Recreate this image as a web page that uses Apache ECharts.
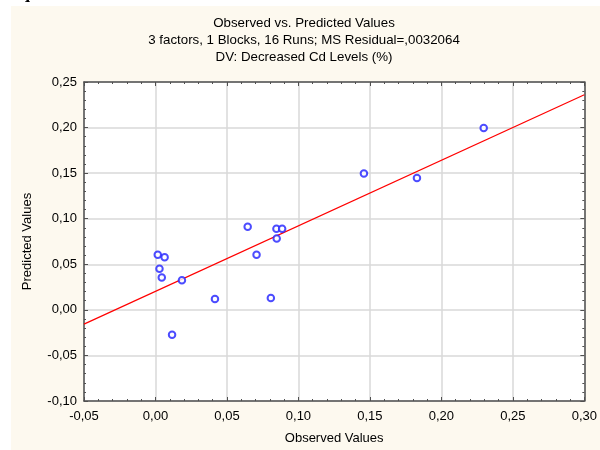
<!DOCTYPE html>
<html>
<head>
<meta charset="UTF-8">
<title>Observed vs. Predicted Values</title>
<script src="https://cdn.jsdelivr.net/npm/echarts@6/dist/echarts.min.js"></script>
<style>
  html, body { margin: 0; padding: 0; background: #fff; }
  #main { width: 600px; height: 450px; }
</style>
</head>
<body>
<div id="main"></div>
<script>
// observed (x) and predicted (y)
const observed  = [0.0016, 0.0064, 0.0028, 0.0044, 0.0185, 0.0416, 0.0116, 0.0645,
                   0.0707, 0.0846, 0.0886, 0.0848, 0.0807, 0.2296, 0.1829, 0.1458];
const predicted = [0.0604, 0.0576, 0.0452, 0.0354, 0.0326, 0.0120, -0.0272, 0.0913,
                   0.0604, 0.0891, 0.0891, 0.0783, 0.0130, 0.1996, 0.1446, 0.1496];
// fitted line end points
const fitX = [-0.05, 0.30];
const fitY = [-0.0157, 0.236];

const titleLines = [
  'Observed vs. Predicted Values',
  '3 factors, 1 Blocks, 16 Runs; MS Residual=,0032064',
  'DV: Decreased Cd Levels (%)'
];

const fmt = v => v.toFixed(2).replace('.', ',');
const font = 'Liberation Sans, Arial, sans-serif';

const chart = echarts.init(document.getElementById('main'));

// frame axes share these
const frameLine = { show: true, onZero: false, lineStyle: { color: '#505050', width: 1.5 } };
const frameTick = { show: true, inside: true, length: 4, lineStyle: { color: '#505050' } };
const frameMinor = { show: true, splitNumber: 5, length: 2, lineStyle: { color: '#505050' } };

const option = {
  animation: false,
  backgroundColor: '#ffffff',
  graphic: [
    {
      type: 'rect', z: -10, silent: true,
      shape: { x: 11, y: 6, width: 589, height: 444 },
      style: { fill: '#fdf9ef' }
    },
    {
      type: 'text', left: 12, top: -16,
      style: { text: 'equation.', font: 'bold 18px Liberation Serif, serif', fill: '#000' }
    }
  ],
  title: titleLines.map((t, i) => ({
    text: t,
    left: 299,
    top: 12 + i * 17,
    textAlign: 'center',
    textStyle: { fontFamily: font, fontSize: 13.3, fontWeight: 'normal', color: '#000' }
  })),
  grid: {
    left: 84, right: 11, top: 82, bottom: 46,
    show: true, backgroundColor: '#ffffff', borderWidth: 0
  },
  xAxis: [
    {
      type: 'value', min: -0.05, max: 0.30, interval: 0.05,
      name: 'Observed Values', nameLocation: 'middle', nameGap: 31,
      nameTextStyle: { fontFamily: font, fontSize: 13, color: '#000' },
      axisLine: frameLine, axisTick: frameTick, minorTick: frameMinor,
      axisLabel: { formatter: fmt, fontFamily: font, fontSize: 13, color: '#000', margin: 9 },
      splitLine: { show: true, lineStyle: { color: '#d9d9d9', width: 1.5 } }
    },
    {
      type: 'value', position: 'top', min: -0.05, max: 0.30, interval: 0.05,
      axisLine: frameLine, axisTick: frameTick, minorTick: frameMinor,
      axisLabel: { show: false }, splitLine: { show: false }
    }
  ],
  yAxis: [
    {
      type: 'value', min: -0.10, max: 0.25, interval: 0.05,
      name: 'Predicted Values', nameLocation: 'middle', nameGap: 50,
      nameTextStyle: { fontFamily: font, fontSize: 13, color: '#000' },
      axisLine: frameLine, axisTick: frameTick, minorTick: frameMinor,
      axisLabel: { formatter: fmt, fontFamily: font, fontSize: 13, color: '#000', margin: 7 },
      splitLine: { show: true, lineStyle: { color: '#d9d9d9', width: 1.5 } }
    },
    {
      type: 'value', position: 'right', min: -0.10, max: 0.25, interval: 0.05,
      axisLine: frameLine, axisTick: frameTick, minorTick: frameMinor,
      axisLabel: { show: false }, splitLine: { show: false }
    }
  ],
  series: [
    {
      type: 'line',
      data: fitX.map((x, i) => [x, fitY[i]]),
      showSymbol: false,
      lineStyle: { color: '#ff0000', width: 1.2 },
      z: 2
    },
    {
      type: 'scatter',
      data: observed.map((x, i) => [x, predicted[i]]),
      symbol: 'emptyCircle',
      symbolSize: 6.5,
      itemStyle: { color: '#1f1fff', borderColor: '#1f1fff', borderWidth: 1.1 },
      z: 3
    }
  ]
};

chart.setOption(option);
</script>
</body>
</html>
